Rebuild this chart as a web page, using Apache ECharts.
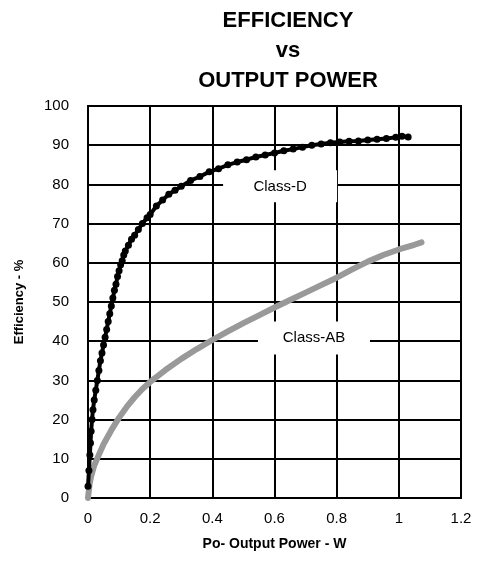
<!DOCTYPE html>
<html>
<head>
<meta charset="utf-8">
<script src="https://cdn.jsdelivr.net/npm/echarts@6/dist/echarts.min.js"></script>
<style>html,body{margin:0;padding:0;background:#fff}#c{width:479px;height:569px}</style>
</head>
<body>
<div id="c"></div>
<script>
const titleLines = ['EFFICIENCY', 'vs', 'OUTPUT POWER'];
const xTicks = [0, 0.2, 0.4, 0.6, 0.8, 1, 1.2];
const yTicks = [0, 10, 20, 30, 40, 50, 60, 70, 80, 90, 100];
const classDPower = [0,0.003,0.006,0.008,0.01,0.013,0.016,0.02,0.025,0.03,0.035,0.04,0.045,0.05,0.055,0.06,0.065,0.07,0.075,0.08,0.085,0.09,0.095,0.1,0.105,0.11,0.115,0.12,0.13,0.14,0.15,0.162,0.175,0.19,0.2,0.22,0.24,0.26,0.28,0.3,0.33,0.36,0.39,0.42,0.45,0.48,0.51,0.54,0.57,0.6,0.63,0.66,0.69,0.72,0.75,0.78,0.81,0.84,0.87,0.9,0.93,0.96,0.99,1.01,1.03];
const classDEff   = [3,7,11,14,17,20,22.5,25,27.5,30,32.5,35,37,39,41,43,45,47,49,51,53,54.5,56.5,58,59.5,60.5,62,63,64.5,66,67,68.5,70,71.5,72.3,74.5,76,77.5,78.5,79.5,81,82,83.2,84,85,85.7,86.3,87,87.5,88,88.6,89,89.5,90,90.3,90.6,90.8,91,91.1,91.3,91.5,91.7,92,92.3,92.1];
const classABPower = [0,0.005,0.01,0.02,0.032,0.05,0.075,0.1,0.125,0.15,0.175,0.2,0.25,0.3,0.35,0.4,0.45,0.5,0.55,0.6,0.65,0.7,0.75,0.8,0.85,0.9,0.95,1.0,1.05,1.073];
const classABEff   = [0,3.5,5.5,8.3,10.5,13.7,17.3,20.5,23.3,25.7,27.8,29.6,32.7,35.5,38,40.3,42.5,44.6,46.6,48.6,50.5,52.4,54.3,56.2,58.3,60.3,62,63.4,64.6,65.2];
const labelD = 'Class-D';
const labelAB = 'Class-AB';
const xName = 'Po- Output Power - W';
const yName = 'Efficiency - %';

const pairs = (xs, ys) => xs.map((x, i) => [x, ys[i]]);
const font = 'Liberation Sans, Arial, sans-serif';

const chart = echarts.init(document.getElementById('c'));
chart.setOption({
  animation: false,
  backgroundColor: '#fff',
  title: {
    text: titleLines.join('\n'),
    left: 283, top: 1, textAlign: 'center',
    textStyle: { fontFamily: font, fontWeight: 'bold', fontSize: 22, lineHeight: 30, color: '#000' }
  },
  grid: { left: 88, right: 18, top: 106, bottom: 71, show: true, borderColor: '#000', borderWidth: 2, backgroundColor: 'transparent' },
  xAxis: {
    type: 'value', min: xTicks[0], max: xTicks[xTicks.length - 1], interval: 0.2,
    name: xName, nameLocation: 'middle', nameGap: 39,
    nameTextStyle: { fontFamily: font, fontWeight: 'bold', fontSize: 14, color: '#000' },
    axisLine: { show: false }, axisTick: { show: false },
    axisLabel: { fontFamily: font, fontSize: 15, color: '#000', margin: 13, formatter: v => String(+v.toFixed(1)) },
    splitLine: { show: true, lineStyle: { color: '#000', width: 2 } }
  },
  yAxis: {
    type: 'value', min: yTicks[0], max: yTicks[yTicks.length - 1], interval: 10,
    name: yName, nameLocation: 'middle', nameGap: 62,
    nameTextStyle: { fontFamily: font, fontWeight: 'bold', fontSize: 13, color: '#000' },
    axisLine: { show: false }, axisTick: { show: false },
    axisLabel: { fontFamily: font, fontSize: 15, color: '#000', margin: 19, padding: [4, 0, 0, 0] },
    splitLine: { show: true, lineStyle: { color: '#000', width: 2 } }
  },
  series: [
    {
      type: 'line', name: labelAB, data: pairs(classABPower, classABEff), smooth: false,
      showSymbol: false, lineStyle: { color: '#999', width: 6, cap: 'round', join: 'round' }, z: 3,
      markPoint: {
        symbol: 'rect', symbolSize: [112, 33], silent: true,
        itemStyle: { color: '#fff' },
        label: { show: true, position: 'inside', formatter: labelAB, fontFamily: font, fontSize: 15, color: '#000' },
        data: [{ coord: [0.727, 40.8] }]
      }
    },
    {
      type: 'line', name: labelD, data: pairs(classDPower, classDEff),
      symbol: 'circle', symbolSize: 7, showSymbol: true,
      itemStyle: { color: '#000' }, lineStyle: { color: '#000', width: 4 }, z: 4,
      markPoint: {
        symbol: 'rect', symbolSize: [114, 32], silent: true,
        itemStyle: { color: '#fff' },
        label: { show: true, position: 'inside', formatter: labelD, fontFamily: font, fontSize: 15, color: '#000' },
        data: [{ coord: [0.618, 79.5] }]
      }
    }
  ]
});
</script>
</body>
</html>
